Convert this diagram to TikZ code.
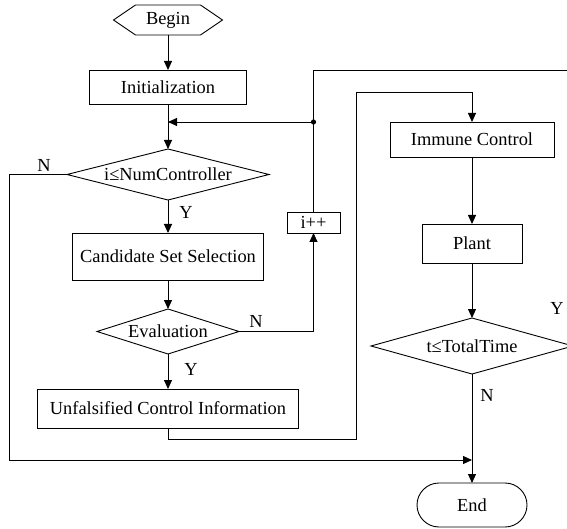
\documentclass[tikz,border=0pt]{standalone}
\usepackage{fontspec}
\setmainfont{Liberation Serif}
\usetikzlibrary{arrows.meta,shapes.geometric,shapes.misc}
\begin{document}
\begin{tikzpicture}[x=1pt,y=-1pt,
  every node/.style={font=\fontsize{18.4}{20}\selectfont, inner sep=0pt, outer sep=0pt},
  box/.style={draw, rectangle, line width=0.9pt},
  dia/.style={draw, diamond, line width=0.9pt, aspect=1},
  term/.style={draw, rounded rectangle, line width=0.9pt},
  lbl/.style={draw=none},
  line/.style={line width=0.9pt},
  arr/.style={line width=0.9pt, -{Triangle[length=9pt,width=8pt]}}
]
\useasboundingbox (0,0) rectangle (567,529);
\clip (0,0) rectangle (567,529);
\fill[white] (0,0) rectangle (567,529);

% nodes
\node[minimum width=109pt, minimum height=30pt] (begin) at (168,20) {Begin};
\draw[line] (begin.west) -- ([xshift=22pt]begin.north west) -- ([xshift=-22pt]begin.north east)
  -- (begin.east) -- ([xshift=-22pt]begin.south east) -- ([xshift=22pt]begin.south west) -- cycle;

\node[box, minimum width=157pt, minimum height=34pt] (init) at (168,87) {Initialization};
\node[dia, minimum width=202pt, minimum height=51pt] (d1) at (168,174.5) {\makebox[0pt]{i≤NumController}};
\node[box, minimum width=191pt, minimum height=47pt] (cand) at (168,256.5) {Candidate Set Selection};
\node[dia, minimum width=142pt, minimum height=45pt] (eval) at (168,331.5) {\makebox[0pt]{Evaluation}};
\node[box, minimum width=261pt, minimum height=39pt] (unf) at (168,408.5) {Unfalsified Control Information};
\node[box, minimum width=53pt, minimum height=21pt] (ipp) at (313.5,222.5) {i++};
\node[box, minimum width=164pt, minimum height=35pt] (imm) at (472,139.5) {Immune Control};
\node[box, minimum width=100pt, minimum height=39pt] (plant) at (472,243.5) {Plant};
\node[dia, minimum width=202pt, minimum height=56pt] (d3) at (472,346) {\makebox[0pt]{t≤TotalTime}};
\node[term, minimum width=110pt, minimum height=44pt] (end) at (472,505) {End};

% coordinates
\coordinate (jn) at (313.5,122);
\coordinate (mj) at (168,122);
\coordinate (em) at (472,460);

% labels
\node[lbl] (lN1) at (44,165) {N};
\node[lbl] (lY1) at (186,212) {Y};
\node[lbl] (lN2) at (256,321) {N};
\node[lbl] (lY2) at (191,369) {Y};
\node[lbl] (lY3) at (557,308) {Y};
\node[lbl] (lN3) at (487,395) {N};

% connectors
\draw[arr] (begin) -- (init);
\draw[arr] (init) -- (d1);
\draw[arr] (jn) -- (mj);
\fill (jn) circle (2.6pt);
\draw[arr] (d1) -- (cand);
\draw[arr] (cand) -- (eval);
\draw[arr] (eval) -- (unf);
\draw[arr] (d1.west) -- (9,174.5) -- (9,460) -- (em);
\draw[arr] (eval.east) -- (313.5,331.5) -- (ipp.south);
\draw[line] (ipp.north) -- (jn);
\draw[line] (d3.east) -- (590,346) -- (590,70.5) -- (313.5,70.5) -- (jn);
\draw[arr] (unf.south) -- (168,439) -- (356,439) -- (356,92) -- (472,92) -- (imm.north);
\draw[arr] (imm) -- (plant);
\draw[arr] (plant) -- (d3);
\draw[arr] (d3) -- (end);
\end{tikzpicture}
\end{document}
